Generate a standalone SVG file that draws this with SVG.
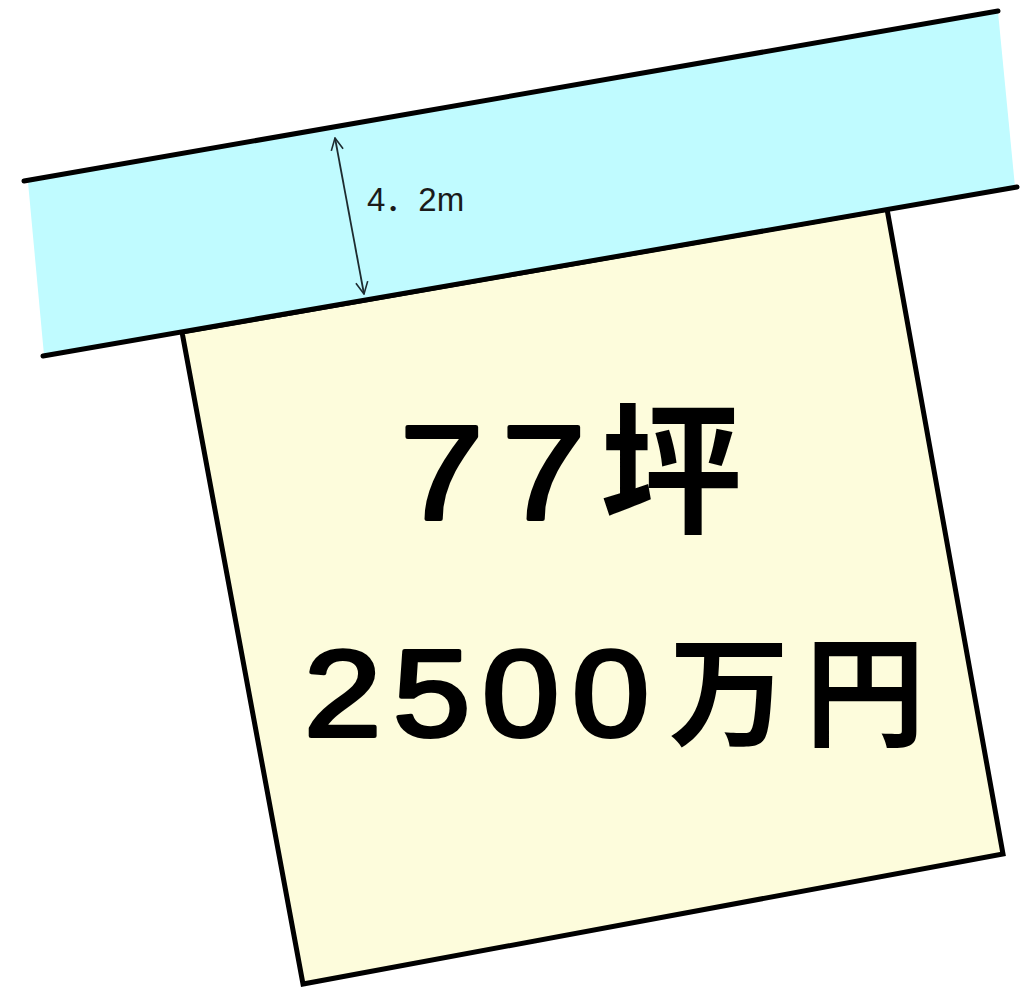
<svg xmlns="http://www.w3.org/2000/svg" width="1021" height="988" viewBox="0 0 1021 988">
<style>
.edge{stroke:#000;stroke-width:5;fill:none;stroke-linecap:round}
.big{font-family:"Liberation Sans","Noto Sans CJK JP",sans-serif;font-weight:normal;fill:#000;stroke:#000;stroke-width:4;stroke-linejoin:round}
.kanji{font-family:"Noto Sans CJK JP",sans-serif;font-weight:bold;fill:#000}
.dim{font-family:"Liberation Sans","Noto Sans CJK JP",sans-serif;font-size:33px;fill:#1a1a1a}
</style>
<defs>
<marker id="ah" viewBox="0 0 14 14" refX="13" refY="7" markerWidth="14" markerHeight="14" markerUnits="userSpaceOnUse" orient="auto-start-reverse">
<path d="M1,1 L13,7 L1,13" fill="none" stroke="#1d2b30" stroke-width="1.6"/>
</marker>
</defs>
<rect width="1021" height="988" fill="#fff"/>
<g id="lot">
<polygon points="182,332 887,209 1003,854 303,984" fill="#fdfcdc" stroke="#000" stroke-width="5" stroke-linejoin="miter"/>
<text class="big" font-size="134" transform="translate(400,519) scale(1.12,1)">7</text>
<text class="big" font-size="134" transform="translate(502,519) scale(1.12,1)">7</text>
<text class="kanji" font-size="142" x="600" y="522">坪</text>
<text class="big" font-size="122" transform="translate(304,736) scale(1.14,1)">2</text>
<text class="big" font-size="122" transform="translate(393,736) scale(1.14,1)">5</text>
<text class="big" font-size="122" transform="translate(482,736) scale(1.14,1)">0</text>
<text class="big" font-size="122" transform="translate(572,736) scale(1.14,1)">0</text>
<text class="kanji" font-size="120" x="669" y="737">万</text>
<text class="kanji" font-size="120" x="805" y="737">円</text>
</g>
<g id="road">
<polygon points="28,182 998,12 1015,187 44,355" fill="#c0fbff"/>
<line class="edge" x1="24" y1="181" x2="998" y2="11"/>
<line class="edge" x1="43" y1="356" x2="1017" y2="187"/>
</g>
<g id="connectors">
<line x1="335" y1="138" x2="364" y2="294" stroke="#1d2b30" stroke-width="1.8" marker-start="url(#ah)" marker-end="url(#ah)"/>
</g>
<g id="dimension-label">
<text class="dim" x="367" y="211">4．2m</text>
</g>
</svg>
